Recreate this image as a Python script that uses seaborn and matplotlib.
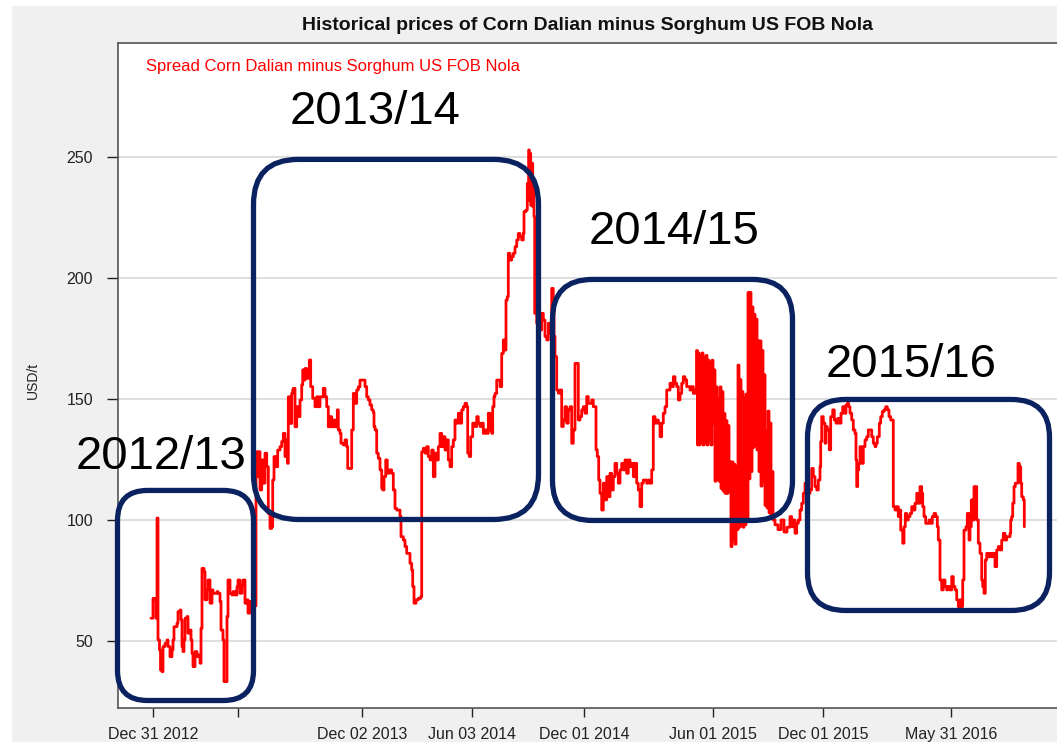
import pandas as pd
import matplotlib
matplotlib.use("Agg")
import matplotlib.pyplot as plt
from matplotlib.patches import FancyBboxPatch, Rectangle
import seaborn as sns

# ---------------------------------------------
# data: position on the chart axis (0 = Dec 31 2012, trading-day index)
# and the spread Corn Dalian minus Sorghum US FOB Nola in USD/t
# ---------------------------------------------
pos_1213 = [-2, 0, 2, 3, 4, 5, 6.5, 7.5, 9, 10, 12, 14, 15, 17, 19, 20, 21, 24, 25, 27,
            28, 29, 30, 31, 32, 34, 35, 36, 38, 39, 40, 42, 44, 45, 47, 48, 49, 51, 52, 54,
            55, 57, 59, 60, 64, 65, 67, 68, 70, 71, 73, 74, 75, 77, 79, 80, 82, 84, 85, 87,
            89, 90, 92, 94, 95, 97, 99]
spread_1213 = [59.4, 67.6, 67, 59.4, 100.8, 50.4, 46.3, 38, 37.3, 47.7, 49, 50.4, 47.7, 43.5, 46.3, 50.4, 55.9, 57.3, 62.1, 62.8,
               58.7, 47.7, 45.6, 50.4, 59.4, 60.1, 53.2, 54.5, 50.4, 44.9, 39.4, 45.6, 43.5, 44.2, 40.8, 55.2, 80, 78.6, 67, 71.1,
               75.2, 65.6, 71.1, 69.7, 70.4, 69.7, 66.3, 54.5, 50.4, 33.2, 33.2, 60.1, 75.2, 69.7, 69, 70.4, 69, 72.4, 75.2, 69.7,
               73.1, 75.2, 65.6, 67, 61.5, 66.3, 64.5]

pos_1314 = [103, 104.3, 105.7, 107, 108.7, 110.3, 112, 113.7, 115.3, 117, 118.7, 119.7, 121, 123, 124.7, 127, 128.7, 130.3, 132, 133.7,
            134.5, 135.3, 137, 138.7, 139.7, 140.3, 142, 143.7, 145.3, 147, 148.7, 149.7, 151, 152, 153.7, 155.3, 156.3, 157.7, 159.7, 162,
            163.7, 165.3, 167, 168.7, 170.3, 172, 173.7, 175.3, 177, 178.7, 180.3, 182, 184.3, 185.3, 187, 188, 190.3, 192, 193.7, 194.7,
            197, 198.7, 200.3, 202, 203.7, 205.3, 207, 210.3, 212, 213.7, 215.3, 217, 218.7, 220.3, 221, 222, 223.7, 225.3, 227, 228.7,
            229.7, 231, 232.7, 234.3, 236.3, 238.7, 240.3, 242, 243.7, 245.3, 247, 248, 250.3, 252, 253.7, 255.3, 257, 258.7, 259.7, 261,
            263, 265.3, 267.7, 268.7, 270.3, 272, 273.7, 275.3, 277, 278.7, 280.3, 282, 283.7, 285.3, 287, 288.7, 290.3, 292, 293.7, 295.3,
            297, 298.7, 300.3, 302, 303.7, 305.3, 307, 308.7, 310.3, 312, 313.7, 314.7, 316.3, 317.7, 319.7, 322, 323.7, 325.3, 327, 328.7,
            330.3, 332, 333.7, 335.3, 337, 338.7, 339.7, 341, 342, 343.7, 345.3, 347, 348.7, 350.3, 352, 353, 354.3, 355.3, 357, 358.7,
            360.3, 362, 363.7, 365.3, 367, 368.7, 370.3, 371, 373, 374.3, 375.7, 376.3, 377, 377.7, 378.7, 379.7, 380.3, 381, 381.7, 383.7,
            387, 388.7, 390.3, 392, 393.7, 395.3, 397]
spread_1314 = [128.2, 117.9, 128.2, 112.4, 124.8, 115.2, 127.6, 122, 102.7, 96.5, 97.2, 116.5, 126.2, 122, 128.9, 130.3, 132.4, 135.8, 126.2, 133.1,
               123.4, 150.9, 139.9, 152.3, 153.7, 154.4, 138.5, 146.8, 142.7, 149.6, 155.8, 162, 157.8, 162.6, 158.5, 162, 166.1, 155.1, 150.3, 146.8,
               150.9, 146.8, 150.9, 150.9, 154.4, 150.9, 146.8, 138.5, 142.7, 138.5, 141.3, 138.5, 145.5, 137.2, 135.8, 131.7, 131, 133.1, 130.3, 121.3,
               121.3, 137.2, 152.3, 148.2, 153.7, 155, 157.8, 157.8, 155.1, 150.9, 149.6, 147.5, 145.5, 144.5, 138.6, 137.2, 127.6, 125.5, 120.7, 113.1,
               112.4, 117.9, 124.8, 119.3, 120.7, 119.3, 112.4, 104.8, 104.1, 104.1, 101.4, 93.1, 91.7, 89, 86.2, 86.2, 82.1, 79.3, 72.5, 65.6,
               67, 67.6, 68.3, 128.2, 129.6, 127.6, 130.3, 126.2, 124.8, 128.9, 117.9, 127.6, 124.8, 130.3, 135.8, 130.3, 134.4, 128.9, 133.1, 124.8,
               122, 130.3, 133.1, 141.3, 140, 144.1, 140, 145.5, 146.8, 148.2, 146.8, 127.6, 126.2, 134.4, 140, 138.6, 142.7, 140, 138.6, 140,
               135.8, 137.2, 135.8, 144.1, 137.2, 135.8, 146.8, 151, 152.3, 157.8, 157.8, 155.1, 168.8, 174.4, 170.2, 190.9, 192.3, 210.2, 207.4, 208.8,
               210.2, 212.9, 215.7, 218.4, 217.1, 215.7, 218.4, 227.4, 228.1, 239.1, 252.9, 232, 251.5, 230, 247.4, 229.5, 240.5, 225.3, 185.4, 181.3,
               178.5, 185.4, 182.6, 175.8, 174.4, 181.3, 177.1]

pos_1415 = [398.7, 400.3, 401, 402, 403.7, 405.3, 407, 408.7, 410.3, 412, 413.7, 415.3, 417, 418.7, 420.3, 422, 423.7, 425.3, 427, 428.7,
            430.3, 432, 433.7, 435.3, 437, 438.7, 440.3, 442, 443, 444.3, 445.7, 447, 448.7, 450.3, 452, 453.7, 455.3, 457, 458.7, 460.3,
            462, 463.7, 465.3, 467, 468.7, 470.3, 472, 473.7, 475.3, 477, 478.7, 480.3, 482, 483.7, 485.3, 487, 488.7, 490.3, 492, 493.7,
            495.3, 497, 498.7, 500.3, 502, 503.7, 505.3, 507, 508.7, 510.3, 512, 513.7, 515.3, 517, 518.7, 520.3, 522, 523.7, 525.3, 527,
            528.7, 530.3, 532, 533.7, 535.3, 537, 538.7, 540.3, 542, 543.5, 544.5,
            545, 546, 547, 548, 549, 550, 551, 552, 553, 554, 555, 556, 557, 558, 559, 560, 561, 562, 563, 564,
            565, 566, 567, 568, 569, 570, 571, 572, 573, 574, 575, 576, 577, 578, 579, 580, 581, 582, 583, 584,
            585, 586, 587, 588, 589, 590, 591, 592, 593, 594, 595, 596, 597, 598, 599, 600, 601, 602, 603, 604,
            605, 606, 607, 608, 609, 610, 611, 612, 613, 614, 615, 616, 617, 618, 619, 620, 622, 625, 628, 631,
            634, 637, 638.7, 640.3, 642, 643.7, 645.3, 647, 648.7, 650.3, 652]
spread_1415 = [195.7, 189.5, 175.8, 167.5, 153.7, 152.4, 153.7, 138.6, 141.3, 146.8, 140, 145.5, 146.8, 131.7, 137.2, 164.7, 164.7, 141.3, 142.7, 145.5,
               146.8, 144.1, 151, 148.2, 148.2, 149.6, 146.8, 146.8, 129, 126.2, 116.5, 111, 104.1, 115.2, 108.3, 117.9, 109.6, 119.3, 112.4, 117.9,
               123.4, 119.3, 115.2, 120.7, 123.4, 120.7, 124.8, 119.3, 124.8, 122, 123.4, 117.9, 123.4, 115.2, 112.4, 105.5, 115.2, 116.5, 116.5, 115.2,
               116.5, 115.2, 120.7, 142.7, 140, 141.3, 140, 134.4, 140, 144.1, 146.8, 153.7, 153.7, 156.5, 155.1, 159.2, 156.5, 155.1, 149.6, 152.3,
               156.5, 159.2, 157.9, 155.1, 155.1, 153.7, 155.1, 152.3, 153.7, 170, 131,
               169, 131, 168, 132, 169, 131, 167, 132, 168, 131, 166, 133, 165, 131, 166, 140, 162, 116, 155, 117,
               150, 116, 155, 113, 153, 112, 144, 111, 141, 111, 139, 112, 124, 89, 124, 92, 123, 90, 122, 96,
               164, 97, 158, 98, 153, 97, 150, 98, 152, 100, 194, 117, 194, 120, 188, 130, 185, 131, 183, 129,
               174, 120, 174, 114, 170, 116, 160, 106, 137, 105, 145, 103, 140, 102, 120, 100, 98, 96, 100, 95,
               97, 101.4, 97.2, 100, 94.5, 98.6, 100, 104.1, 106.9, 111, 115.2]

pos_1516 = [653.7, 655.3, 657, 658.7, 660.3, 662, 663.7, 665.3, 667, 667.7, 668.7, 670.3, 672, 673, 674.3, 676.3, 677.7, 679.7, 681.3, 683,
            684.7, 686.3, 688, 689.7, 691.3, 693, 694.3, 695.7, 697, 698.7, 700.3, 702, 703, 703.7, 704.7, 705.7, 707, 708.7, 710.3, 712,
            713.7, 715.3, 717, 718.7, 720.3, 722, 723, 724.3, 726.3, 727.7, 729.3, 731, 732.7, 734.3, 736, 737.7, 739.7, 740.3, 742, 743.7,
            745.3, 746.3, 747.7, 749.7, 751, 752.3, 753.7, 755.3, 757, 758.7, 760.3, 762, 763.7, 765.3, 767, 768.7, 769.7, 771, 772.7, 774.3,
            776, 777.7, 779.3, 781, 782.7, 784.3, 785.3, 787, 788.7, 790.3, 792, 793.7, 795.3, 797, 798.7, 800.3, 802, 803.7, 805.3, 807,
            808.7, 809.7, 811, 813, 814.3, 816, 817, 818.3, 819.7, 821, 822.3, 823.7, 825.3, 827, 828.7, 829.7, 831, 832.3, 833.7, 835.3,
            837, 838.7, 840.3, 842, 843.7, 845.3, 847, 848.7, 850.3, 852, 853.7, 855.3, 857, 857.7, 858.7, 859.7, 861, 862.3, 863.7, 865,
            866.3, 867.7, 868.7, 870.3, 871.3]
spread_1516 = [112.4, 111, 112.4, 121.3, 117.9, 113.8, 112.4, 116.5, 122, 132.4, 142.7, 140, 131.7, 138.6, 137.2, 129, 142.7, 145.5, 141.3, 140,
               142, 140, 144.1, 146.8, 144.1, 147.5, 148.2, 146.8, 144.1, 141.3, 137.2, 135.8, 124.8, 113.8, 120.7, 123.4, 130.3, 123.4, 130.3, 133.1,
               134.4, 137.2, 137.2, 134.4, 131.7, 130.3, 131.7, 134.4, 140, 142.7, 144.8, 145.5, 146.8, 145.5, 142.7, 141.3, 141.3, 105.5, 104.1, 105.5,
               101.4, 104.1, 95.8, 90.4, 97.2, 102.7, 100, 101.4, 102.7, 105.5, 104.1, 106.9, 111, 106.9, 113.8, 111, 105.5, 101.4, 98.6, 98.6,
               100, 98.6, 101.4, 102.7, 101.4, 97.2, 91.7, 75.2, 71.1, 75.2, 72.5, 71.1, 72.5, 71.1, 76.6, 72.5, 71.1, 67, 64.2, 67,
               64.2, 75.2, 95.8, 97.2, 102.7, 91.7, 97.2, 108.3, 100, 113.8, 113.8, 100, 90.4, 86.2, 75.2, 72.5, 69.7, 83.5, 86.2, 84.8,
               86.2, 84.8, 86.2, 80.7, 87.6, 89, 87.6, 91.7, 94.5, 91.7, 93.1, 93.1, 94.5, 100, 101.4, 106.9, 113.8, 115.2, 115.2, 123.4,
               122, 115.2, 109.6, 108.3, 97.2]

tick_pos = [0, 85, 209, 319, 431, 560, 670, 798]
tick_labels = ["Dec 31 2012", "", "Dec 02 2013", "Jun 03 2014", "Dec 01 2014",
               "Jun 01 2015", "Dec 01 2015", "May 31 2016"]
y_ticks = [50, 100, 150, 200, 250]

# marketing-year call-outs (boxes + labels)
seasons = ["2012/13", "2013/14", "2014/15", "2015/16"]
box_x0 = [-35.5, 100.5, 399.5, 654.5]
box_x1 = [100.5, 385.5, 639.5, 896.5]
box_y0 = [25.4, 100.2, 99.8, 62.6]
box_y1 = [112.2, 249.0, 199.4, 149.8]
box_round = [30, 45, 40, 38]
label_x = [8, 222, 521, 758]
label_y = [126, 268.6, 219, 164]

df = pd.DataFrame({
    "pos": pos_1213 + pos_1314 + pos_1415 + pos_1516,
    "spread": spread_1213 + spread_1314 + spread_1415 + spread_1516,
})

# -----------------------------
# style
# -----------------------------
sns.set_style("white")
plt.rcParams["font.family"] = ["Liberation Sans", "DejaVu Sans"]

W, H = 1057, 742
fig = plt.figure(figsize=(W / 100, H / 100), dpi=100, facecolor="white")
fig.patches.append(Rectangle((12 / W, 0), 1, 1 - 6 / H, transform=fig.transFigure,
                             facecolor="#f0f0f0", edgecolor="none", zorder=-10))
ax = fig.add_axes([118 / W, 34 / H, 940 / W, 665 / H])
ax.set_facecolor("white")

sns.lineplot(data=df, x="pos", y="spread", ax=ax, color="#ff0000", linewidth=2,
             drawstyle="steps-post", estimator=None, sort=False, legend=False, zorder=3)

ax.set_xlim(-35, 905)
ax.set_ylim(22.3, 297.1)
ax.set_xticks(tick_pos)
ax.set_xticklabels(tick_labels)
ax.set_yticks(y_ticks)
ax.set_xlabel("")
ax.set_ylabel("")

ax.yaxis.grid(True, color="#d4d4d4", linewidth=1.1)
ax.xaxis.grid(False)
ax.set_axisbelow(True)
for side in ["left", "bottom", "top"]:
    ax.spines[side].set_color("#555555")
    ax.spines[side].set_linewidth(1.2)
ax.spines["right"].set_visible(False)

ax.tick_params(axis="y", length=8, width=1, pad=10, labelsize=11.5,
               colors="#222222", direction="out", left=True)
ax.tick_params(axis="x", length=6.5, width=1, pad=7, labelsize=11.5,
               colors="#222222", direction="out", bottom=True)

# season boxes and labels
for s, x0, x1, y0, y1, r, lx, ly in zip(seasons, box_x0, box_x1, box_y0, box_y1,
                                         box_round, label_x, label_y):
    box = FancyBboxPatch((x0, y0), x1 - x0, y1 - y0,
                         boxstyle=f"round,pad=0,rounding_size={r}",
                         mutation_aspect=1 / 2.42, facecolor="none",
                         edgecolor="#0b2260", linewidth=3.8, zorder=5, clip_on=False)
    ax.add_patch(box)
    ax.text(lx, ly, s, fontsize=34, color="black", ha="center", va="center", zorder=6)

ax.text(0.0298, 0.9654, "Spread Corn Dalian minus Sorghum US FOB Nola",
        transform=ax.transAxes, color="#ff0000", fontsize=12, ha="left", va="center")

fig.text(588 / W, 1 - 26 / H, "Historical prices of Corn Dalian minus Sorghum US FOB Nola",
         fontsize=14, fontweight="bold", ha="center", va="center", color="#111111")
fig.text(33 / W, 1 - 380 / H, "USD/t", rotation=90, fontsize=10, ha="center", va="center",
         color="#222222")

fig.savefig("out.png", dpi=100, facecolor=fig.get_facecolor())
